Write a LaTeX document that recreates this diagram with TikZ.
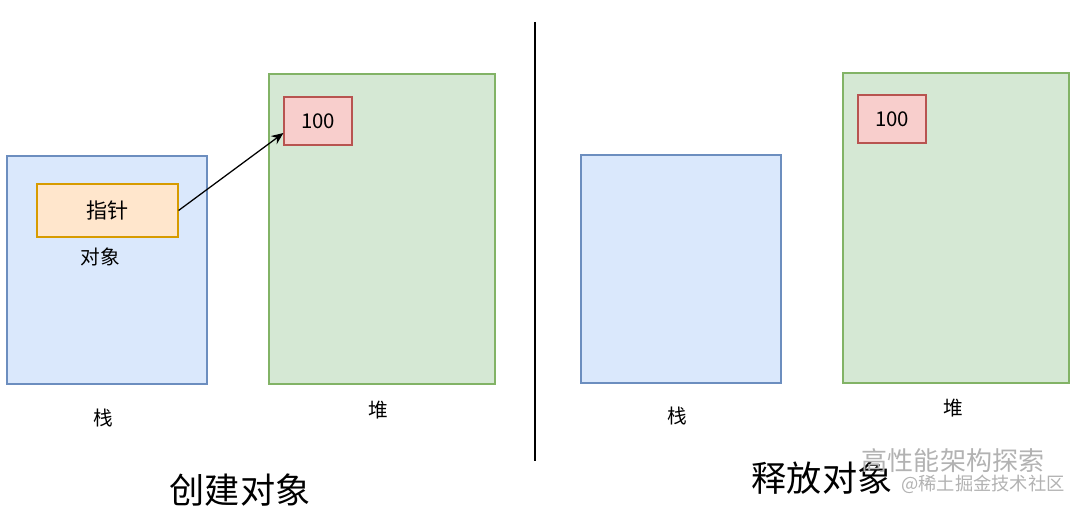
\documentclass[tikz,border=0pt]{standalone}
\usepackage{fontspec}
\setmainfont{Noto Sans CJK SC}
\usetikzlibrary{arrows,arrows.meta,calc,positioning}
\definecolor{stackfill}{HTML}{DAE8FC}
\definecolor{stackline}{HTML}{6C8EBF}
\definecolor{heapfill}{HTML}{D5E8D4}
\definecolor{heapline}{HTML}{82B366}
\definecolor{ptrfill}{HTML}{FFE6CC}
\definecolor{ptrline}{HTML}{D79B00}
\definecolor{valfill}{HTML}{F8CECC}
\definecolor{valline}{HTML}{B85450}
\tikzset{
  stackbox/.style={draw=stackline, fill=stackfill, line width=0.8pt, minimum width=200*0.025cm, minimum height=228*0.025cm, inner sep=0pt},
  heapbox/.style={draw=heapline, fill=heapfill, line width=0.8pt, minimum width=226*0.025cm, minimum height=310*0.025cm, inner sep=0pt},
  valbox/.style={draw=valline, fill=valfill, line width=0.8pt, minimum width=68*0.025cm, minimum height=48*0.025cm, inner sep=0pt, font=\fontsize{14.5}{16}\selectfont},
  lbl/.style={inner sep=0pt, font=\fontsize{14}{16}\selectfont},
  ttl/.style={inner sep=0pt, font=\fontsize{25}{28}\selectfont},
  wmark/.style={inner sep=0pt, text=black!30}
}
\begin{document}
\begin{tikzpicture}[x=0.025cm, y=-0.025cm]
\useasboundingbox (0,0) rectangle (1080,510);

% create object
\node[stackbox] (stackA) at (107,270) {};
\node[draw=ptrline, fill=ptrfill, line width=0.8pt, minimum width=141*0.025cm, minimum height=53*0.025cm, inner sep=0pt, font=\fontsize{15}{17}\selectfont] (ptr) at (107.5,210.5) {指针};
\node[lbl] (objA) at (100,257) {对象};
\node[heapbox] (heapA) at (382,229) {};
\node[valbox] (valA) at (318,121) {100};
\draw[-{Stealth[length=0.3cm,width=0.25cm]}, line width=0.9pt] (ptr.east) -- ($(valA.west)+(0,12)$);
\node[lbl] (stackAlbl) at (103,418) {栈};
\node[lbl] (heapAlbl) at (378,410) {堆};
\node[ttl] (titleA) at (240,490) {创建对象};

\coordinate (divtop) at (535,22);
\coordinate (divbot) at (535,461);
\draw[line width=1pt] (divtop) -- (divbot);

% release object
\node[stackbox] (stackB) at (681,269) {};
\node[heapbox] (heapB) at (956,228) {};
\node[valbox] (valB) at (892,119) {100};
\node[lbl] (stackBlbl) at (677,416) {栈};
\node[lbl] (heapBlbl) at (953,408) {堆};
\node[ttl] (titleB) at (822,478) {释放对象};

\node[wmark, font=\fontsize{18.5}{20}\selectfont] (wmA) at (953,461) {高性能架构探索};
\node[wmark, font=\fontsize{13}{15}\selectfont] (wmB) at (983,484) {@稀土掘金技术社区};
\end{tikzpicture}
\end{document}
